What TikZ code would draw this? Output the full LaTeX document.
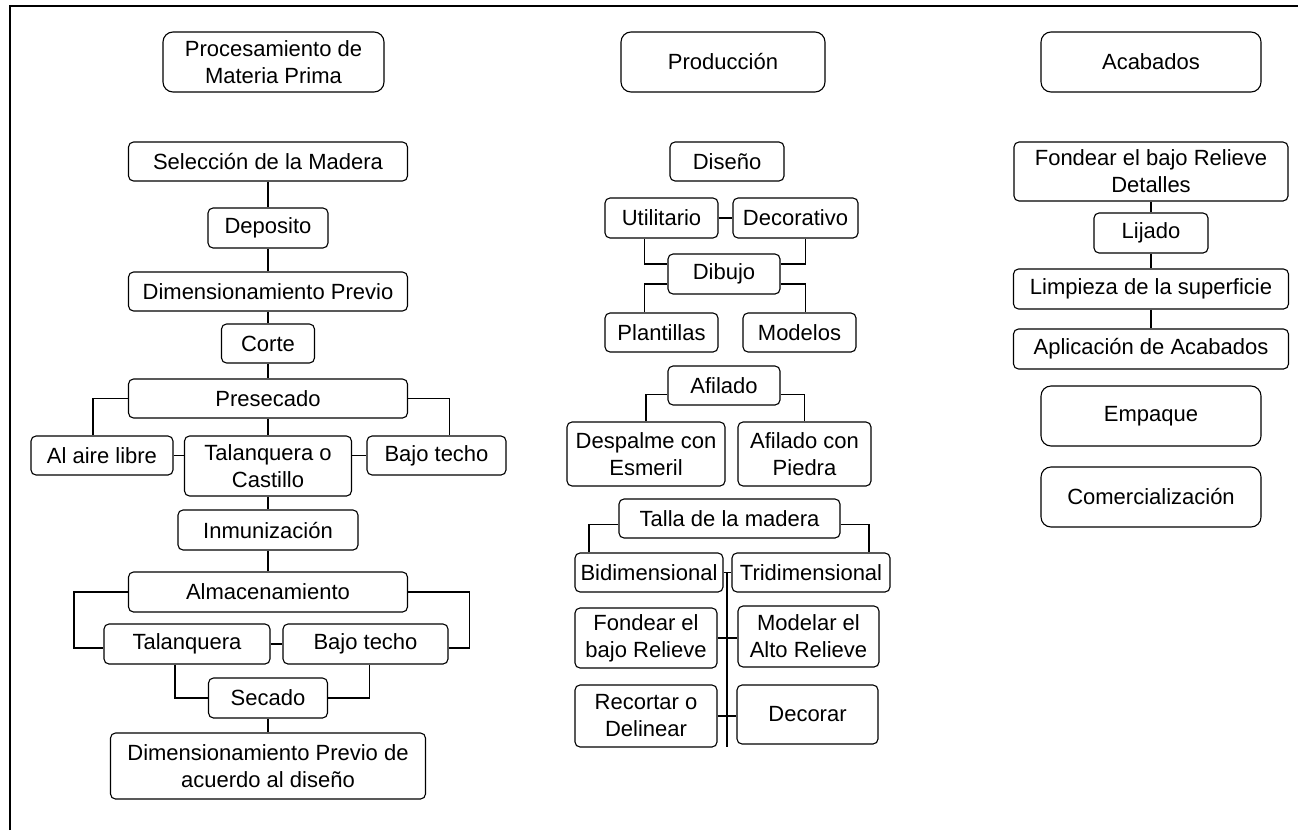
\documentclass[tikz,border=0pt]{standalone}
\usepackage{fontspec}
\setmainfont{Liberation Sans}
\usepackage{tikz}
\usetikzlibrary{positioning, calc}

\begin{document}
\begin{tikzpicture}[x=1pt, y=-1pt, line width=1.1pt,
                    box/.style n args={2}{draw, rounded corners=5pt, align=center, inner sep=0pt, minimum width=#1, minimum height=#2, font=\fontsize{22}{27}\selectfont},
                    head/.style n args={2}{box={#1}{#2}, rounded corners=10pt}]
                        \useasboundingbox (0,0) rectangle (1298,830);
                        \draw (10,830) -- (10,6) -- (1298,6);
                        % Procesamiento de Materia Prima
                        \node[head={221pt}{60pt}] (proc) at (273.5,62) {Procesamiento de\\Materia Prima};
                        \node[box={279pt}{39pt}] (sel) at (268,161.5) {Selección de la Madera};
                        \node[box={120pt}{40pt}] (dep) at (268,228) {Deposito};
                        \node[box={279pt}{39pt}] (dim) at (268,291.5) {Dimensionamiento Previo};
                        \node[box={93pt}{39pt}] (corte) at (268,343.5) {Corte};
                        \node[box={279pt}{39pt}] (presec) at (268,398.5) {Presecado};
                        \node[box={142pt}{39pt}] (aire) at (102,455.5) {Al aire libre};
                        \node[box={167pt}{60pt}] (talcas) at (268,466) {Talanquera o\\Castillo};
                        \node[box={139pt}{39pt}] (bajo) at (436.5,455.5) {Bajo techo};
                        \node[box={180pt}{40pt}] (inmun) at (268,530) {Inmunización};
                        \node[box={279pt}{40pt}] (almac) at (268,592) {Almacenamiento};
                        \node[box={166pt}{40pt}] (talan) at (187,644) {Talanquera};
                        \node[box={165pt}{40pt}] (bajob) at (365.5,644) {Bajo techo};
                        \node[box={119pt}{40pt}] (secado) at (268,698) {Secado};
                        \node[box={315pt}{66pt}] (dimdis) at (268,766) {Dimensionamiento Previo de\\acuerdo al diseño};
                        \draw (sel) -- (dep);
                        \draw (dep) -- (dim);
                        \draw (dim) -- (corte);
                        \draw (corte) -- (presec);
                        \draw (presec) -- (talcas);
                        \draw (talcas) -- (inmun);
                        \draw (inmun) -- (almac);
                        \draw (secado) -- (dimdis);
                        \draw (presec.west) -| ([xshift=-9pt]aire.north);
                        \draw (presec.east) -| ([xshift=13pt]bajo.north);
                        \draw (aire.east) -- (aire.east -| talcas.west);
                        \draw (bajo.west -| talcas.east) -- (bajo.west);
                        \draw (almac.west) -- ++(-54,0) |- ([yshift=-4pt]talan.west);
                        \draw (almac.east) -- ++(61,0) |- ([yshift=-4pt]bajob.east);
                        \draw (talan.east) -- (bajob.west);
                        \draw ([xshift=-12pt]talan.south) |- (secado.west);
                        \draw ([xshift=4pt]bajob.south) |- (secado.east);
                        % Produccion
                        \node[head={204pt}{60pt}] (prod) at (723,62) {Producción};
                        \node[box={114pt}{39pt}] (dis) at (727,161.5) {Diseño};
                        \node[box={113pt}{40pt}] (util) at (661.5,218) {Utilitario};
                        \node[box={125pt}{40pt}] (deco) at (795.5,218) {Decorativo};
                        \node[box={112pt}{40pt}] (dibujo) at (724,274) {Dibujo};
                        \node[box={113pt}{39pt}] (plant) at (661.5,332.5) {Plantillas};
                        \node[box={113pt}{39pt}] (model) at (799.5,332.5) {Modelos};
                        \node[box={112pt}{39pt}] (afil) at (724,385.5) {Afilado};
                        \node[box={158pt}{64pt}] (desp) at (646,454) {Despalme con\\Esmeril};
                        \node[box={133pt}{64pt}] (afpied) at (804.5,454) {Afilado con\\Piedra};
                        \node[box={221pt}{39pt}] (talla) at (729.5,518.5) {Talla de la madera};
                        \node[box={148pt}{39pt}] (bidim) at (649,572.5) {Bidimensional};
                        \node[box={158pt}{39pt}] (tridim) at (811,572.5) {Tridimensional};
                        \node[box={142pt}{60pt}] (fondear) at (646,638) {Fondear el\\bajo Relieve};
                        \node[box={141pt}{61pt}] (modelar) at (808.5,636.5) {Modelar el\\Alto Relieve};
                        \node[box={142pt}{62pt}] (recortar) at (646,716) {Recortar o\\Delinear};
                        \node[box={141pt}{59pt}] (decorar) at (807.5,714.5) {Decorar};
                        \coordinate (spine) at (727,572.5);
                        \coordinate (spineend) at (727,747);
                        \draw (util) -- (deco);
                        \draw ([xshift=-17pt]util.south) |- ([yshift=10pt]dibujo.west);
                        \draw ([xshift=10pt]deco.south) |- ([yshift=10pt]dibujo.east);
                        \draw ([yshift=-10pt]dibujo.west) -| ([xshift=-17pt]plant.north);
                        \draw ([yshift=-10pt]dibujo.east) -| ([xshift=6pt]model.north);
                        \draw ([yshift=-9pt]afil.west) -| (desp.north);
                        \draw ([yshift=-9pt]afil.east) -| (afpied.north);
                        \draw ([yshift=-6pt]talla.west) -| ([xshift=-60pt]bidim.north);
                        \draw ([yshift=-6pt]talla.east) -| ([xshift=58pt]tridim.north);
                        \draw (bidim.east) -- (tridim.west);
                        \draw (spine) -- (spineend);
                        \draw (fondear.east) -- (fondear.east -| modelar.west);
                        \draw (recortar.east) -- (recortar.east -| decorar.west);
                        % Acabados
                        \node[head={220pt}{60pt}] (acab) at (1151,62) {Acabados};
                        \node[box={274pt}{59pt}] (fbrd) at (1151,171.5) {Fondear el bajo Relieve\\Detalles};
                        \node[box={114pt}{40pt}] (lijado) at (1151,233) {Lijado};
                        \node[box={275pt}{40pt}] (limp) at (1151,289) {Limpieza de la superficie};
                        \node[box={275pt}{40pt}] (aplic) at (1151,349) {Aplicación de Acabados};
                        \node[head={220pt}{60pt}] (empaque) at (1151,416) {Empaque};
                        \node[head={220pt}{60pt}] (comerc) at (1151,497) {Comercialización};
                        \draw (fbrd) -- (lijado);
                        \draw (lijado) -- (limp);
                        \draw (limp) -- (aplic);
                    \end{tikzpicture}
\end{document}
